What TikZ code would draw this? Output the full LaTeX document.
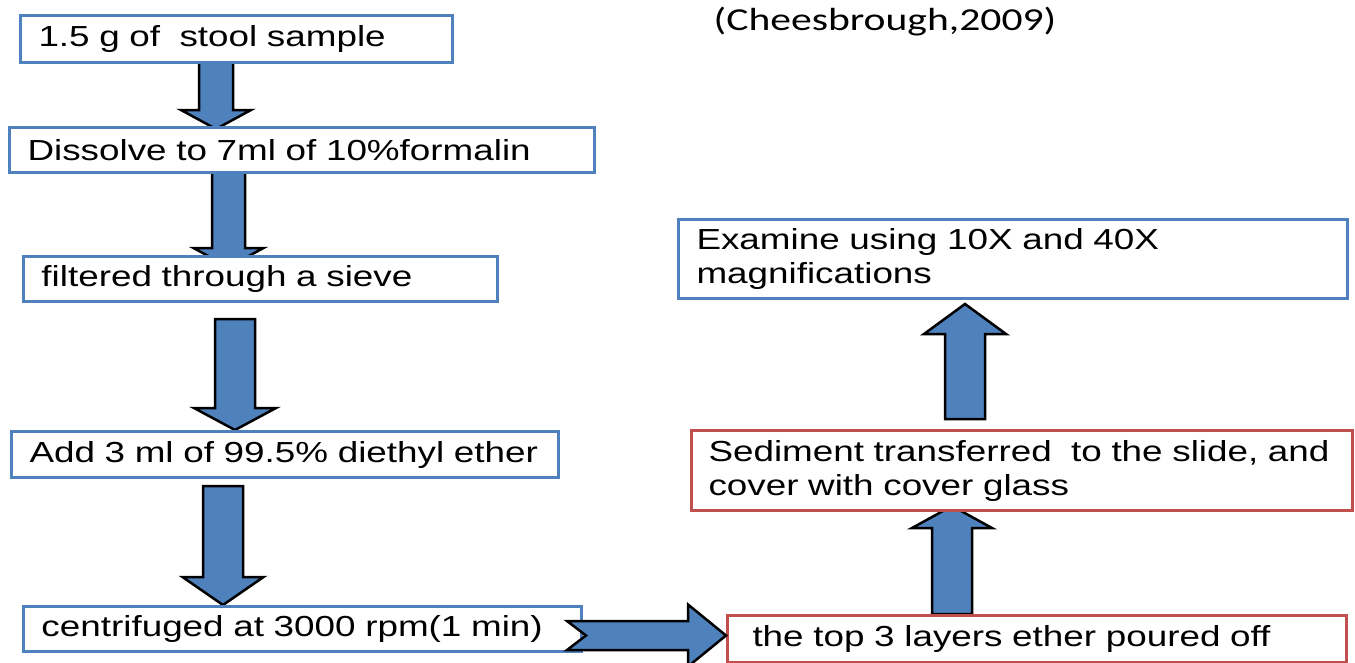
\documentclass[tikz,border=0pt]{standalone}
\usepackage{fontspec}
\setmainfont[FakeStretch=1.27]{Liberation Sans}
\newfontfamily\citefont[FakeStretch=1.3]{Carlito}
\usetikzlibrary{calc,backgrounds}
\definecolor{boxblue}{HTML}{4F81BD}
\definecolor{boxred}{HTML}{C0504D}
\definecolor{arrowblue}{HTML}{4F81BD}
\newcommand{\vblock}[5]{\draw[blockarrow] ($(#1)+(-#3,0)$) -- ($(#2)+(-#3,#5)$) -- ($(#2)+(-#4,#5)$) -- (#2) -- ($(#2)+(#4,#5)$) -- ($(#2)+(#3,#5)$) -- ($(#1)+(#3,0)$) -- cycle;}
\begin{document}
\begin{tikzpicture}[x=1pt,y=-1pt,
	stepbox/.style={draw,fill=white,line width=3pt,anchor=north west,align=left,inner xsep=18pt,inner ysep=0pt,font=\fontsize{29}{34}\selectfont},
	bluebox/.style={stepbox,draw=boxblue},
	redbox/.style={stepbox,draw=boxred},
	blockarrow/.style={draw=black,fill=arrowblue,line width=2.5pt,line join=miter}]
			\useasboundingbox (0,0) rectangle (1355,662);
			\node[bluebox,text width=396pt,minimum height=47pt] (b1) at (19,14) {1.5 g of\ \ stool sample};
			\node[bluebox,text width=549pt,minimum height=45pt] (b2) at (8,126) {Dissolve to 7ml of 10\%formalin};
			\node[bluebox,text width=438pt,minimum height=45pt] (b3) at (22,255) {filtered through a sieve};
			\node[bluebox,text width=511pt,minimum height=46pt] (b4) at (10,430) {Add 3 ml of 99.5\% diethyl ether};
			\node[bluebox,text width=522pt,minimum height=45pt] (b5) at (22,605) {centrifuged at 3000 rpm(1 min)};
			\node[bluebox,text width=633pt,minimum height=79pt] (b6) at (677,218) {Examine using 10X and 40X\\magnifications};
			\node[redbox,inner xsep=17pt,text width=627pt,minimum height=80pt] (b7) at (690,429) {Sediment transferred\ \ to the slide, and\\cover with cover glass};
			\node[redbox,inner xsep=25pt,text width=569pt,minimum height=47pt] (b8) at (726,614) {the top 3 layers ether poured off};
			\node[font=\citefont\fontsize{32}{38}\selectfont] (cite) at (885,22) {(Cheesbrough,2009)};
			\begin{pgfonlayer}{background}
			\coordinate (a1) at (216,61);
			\coordinate (a1tip) at ($(a1 |- b2.north)+(0,3)$);
			\coordinate (a2) at (228.5,171);
			\coordinate (a2tip) at ($(a2 |- b3.north)+(0,12)$);
			\coordinate (a3) at (235,319);
			\coordinate (a3tip) at (a3 |- b4.north);
			\coordinate (a4) at (223,486);
			\coordinate (a4tip) at (a4 |- b5.north);
			\coordinate (a6) at (952,614);
			\coordinate (a6tip) at ($(a6 |- b7.south)+(0,-6)$);
			\coordinate (a7) at (965,419);
			\coordinate (a7tip) at ($(a7 |- b6.south)+(0,4)$);
			\vblock{a1}{a1tip}{17}{35}{-19}
			\vblock{a2}{a2tip}{16.5}{35}{-19}
			\vblock{a3}{a3tip}{20}{41}{-22}
			\vblock{a4}{a4tip}{20}{40.5}{-28}
			\vblock{a6}{a6tip}{20}{40}{22}
			\vblock{a7}{a7tip}{20}{41}{30}
			\end{pgfonlayer}
			\coordinate (a5) at (567,635.5);
			\coordinate (a5tip) at (a5 -| b8.west);
			\draw[blockarrow] ($(a5)+(0,-14.5)$) -- ($(a5tip)+(-38,-14.5)$) -- ($(a5tip)+(-38,-31)$) -- (a5tip) -- ($(a5tip)+(-38,31)$) -- ($(a5tip)+(-38,14.5)$) -- ($(a5)+(0,14.5)$) -- ($(a5)+(19,0)$) -- cycle;
		\end{tikzpicture}
\end{document}
